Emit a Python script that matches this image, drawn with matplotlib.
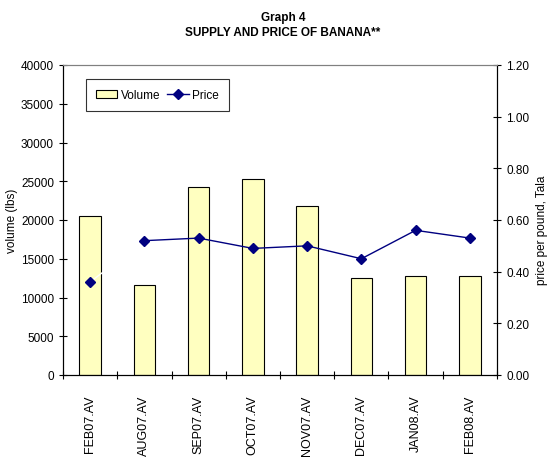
import numpy as np
import matplotlib
matplotlib.use("Agg")
import matplotlib.pyplot as plt
from matplotlib.ticker import FixedLocator

plt.rcParams['font.family'] = ['Liberation Sans', 'DejaVu Sans']

months = ["FEB07.AV", "AUG07.AV", "SEP07.AV", "OCT07.AV",
          "NOV07.AV", "DEC07.AV", "JAN08.AV", "FEB08.AV"]
volume = [20500, 11600, 24200, 25300, 21800, 12500, 12800, 12800]
price = [0.36, 0.52, 0.53, 0.49, 0.50, 0.45, 0.56, 0.53]

fig = plt.figure(figsize=(5.5, 4.64), dpi=100)
ax = fig.add_axes([63/550, 1-376/464, (497-63)/550, (376-66)/464])
x = np.arange(len(months))

bars = ax.bar(x, volume, width=0.4, color="#FFFFC0", edgecolor="black",
              linewidth=0.8, label="Volume", zorder=2)
ax.set_xlim(-0.5, len(months)-0.5)
ax.set_ylim(0, 40000)
ax.set_yticks(np.arange(0, 40001, 5000))
ax.set_xticks(x)
ax.set_xticklabels(months, rotation=90, fontsize=9)
ax.xaxis.set_minor_locator(FixedLocator(np.arange(-0.5, len(months), 1.0)))
ax.tick_params(axis='x', which='major', length=0, pad=14)
ax.tick_params(axis='x', which='minor', direction='inout', length=6, width=0.8)
ax.tick_params(axis='y', direction='inout', length=6, width=0.8, labelsize=8.5)
ax.set_ylabel("volume (lbs)", fontsize=8.5)
ax.yaxis.set_label_coords((18-63)/434, 0.5)

ax2 = ax.twinx()
ax2.set_ylim(0, 1.2)
ax2.set_yticks(np.arange(0, 1.21, 0.2))
ax2.set_yticklabels(["%.2f" % v for v in np.arange(0, 1.21, 0.2)])
ax2.tick_params(axis='y', direction='inout', length=6, width=0.8, labelsize=8.5)
ax2.set_ylabel("price per pound, Tala", fontsize=8.5)
ax2.yaxis.set_label_coords((536-63)/434, 0.47)

# first segment is drawn in white in the original chart
ax2.plot(x[:2], price[:2], color="white", linewidth=1, zorder=3)
ax2.plot(x[1:], price[1:], color="#000080", linewidth=1, zorder=3)
ax2.plot(x, price, linestyle="none", marker="D", markersize=5.5,
         color="#000080", zorder=4)
line_h, = ax2.plot([], [], color="#000080", marker="D", markersize=5,
                   linewidth=1, label="Price")

for a in (ax, ax2):
    for s in a.spines.values():
        s.set_linewidth(0.8)
    a.spines['top'].set_color("#808080")

leg = ax.legend([bars, line_h], ["Volume", "Price"], loc="upper left",
                bbox_to_anchor=((86-63)/434, (376-80)/310), ncol=2, fontsize=8.5,
                frameon=True, fancybox=False, edgecolor="black",
                handlelength=1.8, columnspacing=0.6, handletextpad=0.3,
                borderpad=0.85, borderaxespad=0)
leg.get_frame().set_linewidth(0.8)
leg.set_zorder(10)

fig.text(0.5 + 8/550, 1-18/464, "Graph 4", ha="center", va="center",
         fontsize=8.5, fontweight="bold")
fig.text(0.5 + 8/550, 1-33/464, "SUPPLY AND PRICE OF BANANA**", ha="center",
         va="center", fontsize=8.5, fontweight="bold")

fig.savefig("out.png", dpi=100)
